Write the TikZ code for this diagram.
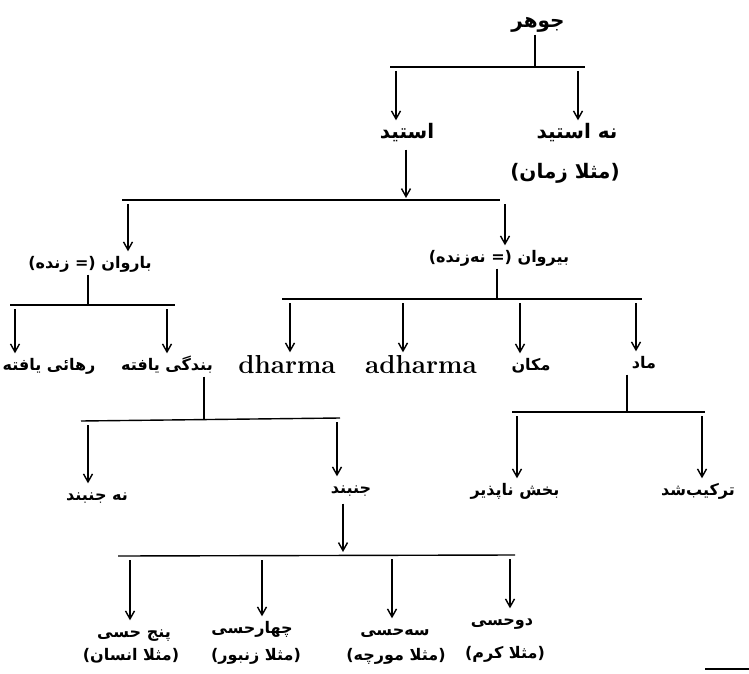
\documentclass[tikz,border=0pt]{standalone}
\usepackage{fontspec}
\usepackage{tikz}
\usetikzlibrary{arrows.meta}
\TeXXeTstate=1
\newfontfamily\arabicfont[Script=Arabic]{DejaVu Sans}
\newcommand{\kutext}[1]{{\arabicfont\bfseries\beginR #1\endR}}

\begin{document}
\begin{tikzpicture}[x=0.5pt,y=-0.5pt,line width=0.7pt,
    every node/.style={inner sep=1pt,text height=7pt,text depth=2pt,font=\fontsize{8}{10}\selectfont},
    arr/.style={-{Straight Barb[length=4pt,width=4.5pt]},shorten <=2pt},
    big/.style={font=\fontsize{10}{12}\selectfont,text height=8pt},
    latin/.style={font=\fontsize{13}{15}\selectfont\bfseries,text height=9pt,text depth=1pt}]
  \useasboundingbox (0,0) rectangle (749,674);

  % Root
  \node[big] (jawhar) at (538,22) {\kutext{جوهر}};
  \coordinate (s1) at (535,67);
  \draw (390,67) -- (585,67);
  \draw (jawhar.south -| s1) -- (s1);
  \node[big] (ast)   at (407,133) {\kutext{استید}};
  \node[big] (naast) at (577,133) {\kutext{نە استید}};
  \node[big] (zaman) at (565,172) {\kutext{(مثلا زمان)}};
  \coordinate (a11) at (396,67);
  \coordinate (a12) at (578,67);
  \draw[arr] (a11) -- (a11 |- ast.north);
  \draw[arr] (a12) -- (a12 |- naast.north);

  % Astid
  \coordinate (s2) at (406,198);
  \draw (122,200) -- (500,200);
  \draw[arr] (ast.south -| s2) -- (s2);
  \node (baravan) at (90,263)  {\kutext{باروان (= زندە)}};
  \node (biravan) at (499,257) {\kutext{بیروان (= نەزندە)}};
  \coordinate (a21) at (128,200);
  \coordinate (a22) at (505,200);
  \draw[arr] (a21) -- (a21 |- baravan.north);
  \draw[arr] (a22) -- (a22 |- biravan.north);

  % Living
  \coordinate (s3) at (88,305);
  \draw (10,305) -- (175,305);
  \draw (baravan.south -| s3) -- (s3);
  \node (rahai)   at (49,365)  {\kutext{رهائی یافته}};
  \node (bandagi) at (167,365) {\kutext{بندگی یافته}};
  \coordinate (a31) at (15,305);
  \coordinate (a32) at (167,305);
  \draw[arr] (a31) -- (a31 |- rahai.north);
  \draw[arr] (a32) -- (a32 |- bandagi.north);

  % Non-living
  \coordinate (s4) at (497,299);
  \draw (282,299) -- (642,299);
  \draw (biravan.south -| s4) -- (s4);
  \node[latin] (dharma)  at (287,365) {dharma};
  \node[latin] (adharma) at (421,365) {adharma};
  \node (makan) at (531,365) {\kutext{مکان}};
  \node (madd)  at (644,363) {\kutext{ماد}};
  \coordinate (a41) at (290,299);
  \coordinate (a42) at (403,299);
  \coordinate (a43) at (520,299);
  \coordinate (a44) at (636,299);
  \draw[arr] (a41) -- (a41 |- dharma.north);
  \draw[arr] (a42) -- (a42 |- adharma.north);
  \draw[arr] (a43) -- (a43 |- makan.north);
  \draw[arr] (a44) -- (a44 |- madd.north);

  % Bound souls
  \coordinate (s5) at (204,420);
  \draw (81,421) -- (340,418);
  \draw (bandagi.south -| s5) -- (s5);
  \node (najonband) at (97,495)  {\kutext{نە جنبند}};
  \node (jonband)   at (351,488) {\kutext{جنبند}};
  \coordinate (a51) at (88,421);
  \coordinate (a52) at (337,418);
  \draw[arr] (a51) -- (a51 |- najonband.north);
  \draw[arr] (a52) -- (a52 |- jonband.north);

  % Matter
  \coordinate (s6) at (627,412);
  \draw (512,412) -- (705,412);
  \draw (madd.south -| s6) -- (s6);
  \node (bakhsh) at (515,490) {\kutext{بخش ناپذیر}};
  \node (tarkib) at (698,490) {\kutext{ترکیب‌شد}};
  \coordinate (a61) at (517,412);
  \coordinate (a62) at (702,412);
  \draw[arr] (a61) -- (a61 |- bakhsh.north);
  \draw[arr] (a62) -- (a62 |- tarkib.north);

  % Mobile
  \coordinate (s7) at (343,552);
  \draw (118,556) -- (515,555);
  \draw[arr] (jonband.south -| s7) -- (s7);
  \node (panj)   at (134,632) {\kutext{پنج حسی}};
  \node (chahar) at (252,628) {\kutext{چهارحسی}};
  \node (seh)    at (395,630) {\kutext{سەحسی}};
  \node (du)     at (502,620) {\kutext{دوحسی}};
  \node (insan)  at (131,655) {\kutext{(مثلا انسان)}};
  \node (zanbur) at (256,655) {\kutext{(مثلا زنبور)}};
  \node (murcha) at (396,655) {\kutext{(مثلا مورچە)}};
  \node (kirm)   at (505,653) {\kutext{(مثلا کرم)}};
  \coordinate (a71) at (130,556);
  \coordinate (a72) at (262,556);
  \coordinate (a73) at (392,555);
  \coordinate (a74) at (510,555);
  \draw[arr] (a71) -- (a71 |- panj.north);
  \draw[arr] (a72) -- (a72 |- chahar.north);
  \draw[arr] (a73) -- (a73 |- seh.north);
  \draw[arr] (a74) -- (a74 |- du.north);

  \draw[line width=1.2pt] (705,669) -- (749,669);
\end{tikzpicture}
\end{document}
